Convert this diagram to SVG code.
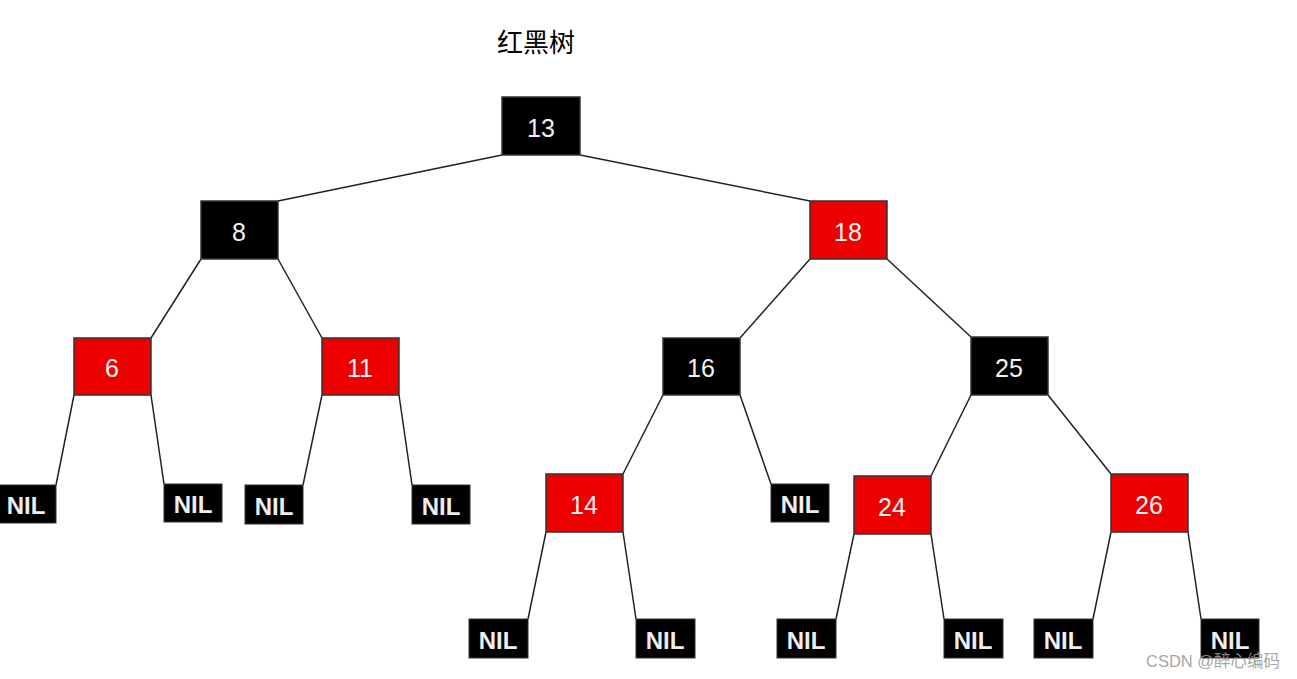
<svg xmlns="http://www.w3.org/2000/svg" width="1297" height="679" viewBox="0 0 1297 679">
<style>
.n rect{stroke:#333;stroke-width:1.5}
.b rect{fill:#000}
.r rect{fill:#ee0000}
.n text{font-family:"Liberation Sans",Arial,sans-serif;font-size:25px;fill:#f2f2f2;text-anchor:middle;dominant-baseline:central}
.nil rect{fill:#000;stroke:#333;stroke-width:1}
.nil text{font-family:"Liberation Sans",Arial,sans-serif;font-size:24px;font-weight:bold;fill:#eee;text-anchor:middle;dominant-baseline:central}
#edges line{stroke:#222;stroke-width:1.5}
</style>
<rect width="1297" height="679" fill="#fff"/>
<text x="536" y="52" font-family="'Noto Sans CJK SC',sans-serif" font-size="26" text-anchor="middle" fill="#000">红黑树</text>
<g id="edges">
<line x1="502" y1="155" x2="278" y2="201"/>
<line x1="580" y1="155" x2="810" y2="201"/>
<line x1="201" y1="259" x2="151" y2="338"/>
<line x1="278" y1="259" x2="322" y2="338"/>
<line x1="810" y1="259" x2="740" y2="338"/>
<line x1="887" y1="259" x2="971" y2="337"/>
<line x1="74" y1="395" x2="56" y2="485"/>
<line x1="151" y1="395" x2="164" y2="484"/>
<line x1="322" y1="395" x2="303" y2="485"/>
<line x1="399" y1="395" x2="412" y2="485"/>
<line x1="663" y1="395" x2="623" y2="474"/>
<line x1="740" y1="395" x2="771" y2="484"/>
<line x1="971" y1="395" x2="931" y2="476"/>
<line x1="1048" y1="395" x2="1111" y2="474"/>
<line x1="546" y1="532" x2="528" y2="619"/>
<line x1="623" y1="532" x2="636" y2="619"/>
<line x1="854" y1="534" x2="836" y2="619"/>
<line x1="931" y1="534" x2="944" y2="619"/>
<line x1="1111" y1="532" x2="1093" y2="619"/>
<line x1="1188" y1="532" x2="1201" y2="619"/>
</g>
<g id="n13" class="n b"><rect x="502" y="97" width="78" height="58"/><text x="541" y="128">13</text></g>
<g id="n8" class="n b"><rect x="201" y="201" width="77" height="58"/><text x="239" y="232">8</text></g>
<g id="n18" class="n r"><rect x="810" y="201" width="77" height="58"/><text x="848" y="232">18</text></g>
<g id="n6" class="n r"><rect x="74" y="338" width="77" height="57"/><text x="112" y="368">6</text></g>
<g id="n11" class="n r"><rect x="322" y="338" width="77" height="57"/><text x="360" y="368">11</text></g>
<g id="n16" class="n b"><rect x="663" y="338" width="77" height="57"/><text x="701" y="368">16</text></g>
<g id="n25" class="n b"><rect x="971" y="337" width="77" height="58"/><text x="1009" y="368">25</text></g>
<g id="n14" class="n r"><rect x="546" y="474" width="77" height="58"/><text x="584" y="505">14</text></g>
<g id="n24" class="n r"><rect x="854" y="476" width="77" height="58"/><text x="892" y="507">24</text></g>
<g id="n26" class="n r"><rect x="1111" y="474" width="77" height="58"/><text x="1149" y="505">26</text></g>
<g id="nil1" class="nil"><rect x="-2" y="485" width="58" height="38"/><text x="26" y="505">NIL</text></g>
<g id="nil2" class="nil"><rect x="164" y="484" width="58" height="38"/><text x="193" y="504">NIL</text></g>
<g id="nil3" class="nil"><rect x="245" y="485" width="58" height="39"/><text x="274" y="506">NIL</text></g>
<g id="nil4" class="nil"><rect x="412" y="485" width="58" height="39"/><text x="441" y="506">NIL</text></g>
<g id="nil5" class="nil"><rect x="771" y="484" width="58" height="38"/><text x="800" y="504">NIL</text></g>
<g id="nil6" class="nil"><rect x="469" y="619" width="59" height="39"/><text x="498" y="640">NIL</text></g>
<g id="nil7" class="nil"><rect x="636" y="619" width="59" height="39"/><text x="665" y="640">NIL</text></g>
<g id="nil8" class="nil"><rect x="777" y="619" width="59" height="39"/><text x="806" y="640">NIL</text></g>
<g id="nil9" class="nil"><rect x="944" y="619" width="59" height="39"/><text x="973" y="640">NIL</text></g>
<g id="nil10" class="nil"><rect x="1034" y="619" width="59" height="39"/><text x="1063" y="640">NIL</text></g>
<g id="nil11" class="nil"><rect x="1201" y="619" width="58" height="39"/><text x="1230" y="640">NIL</text></g>
<text x="1146" y="667" font-family="'Liberation Sans','Noto Sans CJK SC',sans-serif" font-size="16.5" fill="#999" fill-opacity="0.9">CSDN @醉心编码</text>
</svg>
